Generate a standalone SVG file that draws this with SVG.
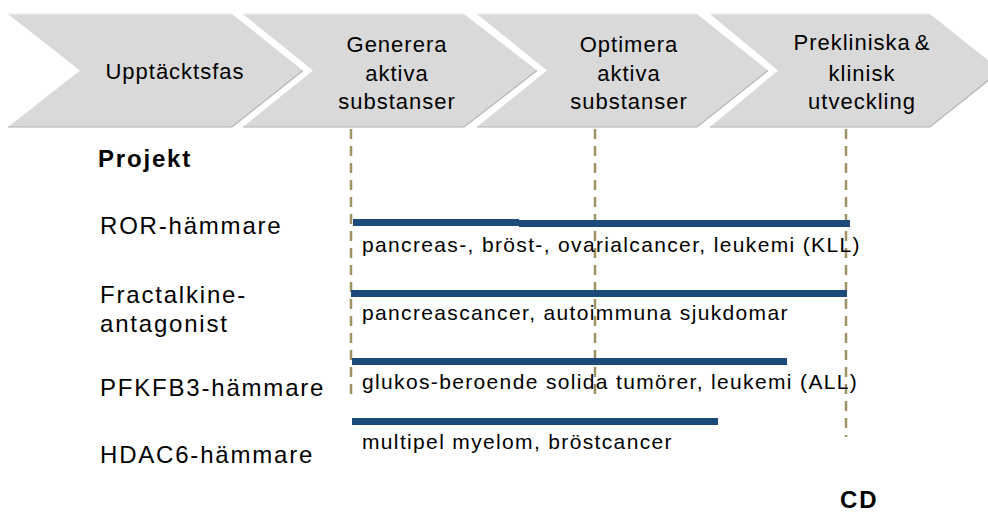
<svg xmlns="http://www.w3.org/2000/svg" width="988" height="514" viewBox="0 0 988 514">
  <style>
    text { font-family: "Liberation Sans", Arial, sans-serif; fill: #000; }
    .ph { font-size: 22px; letter-spacing: 1px; text-anchor: middle; }
    .proj { font-size: 24px; letter-spacing: 1.8px; }
    .bold { font-weight: bold; }
    .dis { font-size: 21px; letter-spacing: 1.35px; }
    .chev { fill: #d9d9d9; }
    .chev-hi { fill: none; stroke: #ededed; stroke-width: 1.5; }
    .chev-sh { fill: none; stroke: #b3b3b3; stroke-width: 1.2; }
    .guide { stroke: #a09262; stroke-width: 2.5; stroke-dasharray: 10 7; fill: none; }
    .bar { fill: #1c4a7b; }
  </style>

  <g id="phase-upptackt">
    <polygon class="chev" points="8,14 232,14 303,70.5 232,127 8,127 80,70.5"/>
    <polyline class="chev-hi" points="8,14 232,14"/>
    <polyline class="chev-sh" points="8,127 232,127 303,70.5"/>
    <text class="ph" x="175" y="79">Upptäcktsfas</text>
  </g>
  <g id="phase-generera">
    <polygon class="chev" points="243,14 464,14 537,70.5 464,127 243,127 313,70.5"/>
    <polyline class="chev-hi" points="243,14 464,14"/>
    <polyline class="chev-sh" points="243,127 464,127 537,70.5"/>
    <text class="ph" x="397" y="52">Generera</text>
    <text class="ph" x="397" y="81">aktiva</text>
    <text class="ph" x="397" y="109">substanser</text>
  </g>
  <g id="phase-optimera">
    <polygon class="chev" points="477,14 697,14 768,70.5 697,127 477,127 547,70.5"/>
    <polyline class="chev-hi" points="477,14 697,14"/>
    <polyline class="chev-sh" points="477,127 697,127 768,70.5"/>
    <text class="ph" x="629" y="52">Optimera</text>
    <text class="ph" x="629" y="81">aktiva</text>
    <text class="ph" x="629" y="109">substanser</text>
  </g>
  <g id="phase-preklinisk">
    <polygon class="chev" points="710,14 930,14 1001,70.5 930,127 710,127 778,70.5"/>
    <polyline class="chev-hi" points="710,14 930,14"/>
    <polyline class="chev-sh" points="710,127 930,127 1001,70.5"/>
    <text class="ph" x="862" y="50">Prekliniska<tspan dx="4">&amp;</tspan></text>
    <text class="ph" x="862" y="81">klinisk</text>
    <text class="ph" x="862" y="109">utveckling</text>
  </g>

  <g id="connectors">
    <line class="guide" x1="351" y1="129" x2="351" y2="397"/>
    <line class="guide" x1="595" y1="129" x2="595" y2="395"/>
    <line class="guide" x1="846" y1="129" x2="846" y2="437"/>
  </g>

  <g id="header-projekt">
    <text class="proj bold" x="98" y="167">Projekt</text>
  </g>

  <g id="proj-ror">
    <text class="proj" x="100" y="234">ROR-hämmare</text>
    <rect class="bar" x="353" y="219" width="166" height="7"/>
    <rect class="bar" x="519" y="220" width="331" height="7"/>
    <text class="dis" x="362" y="252">pancreas-, bröst-, ovarialcancer, leukemi (KLL)</text>
  </g>

  <g id="proj-fractalkine">
    <text class="proj" x="100" y="303">Fractalkine-</text>
    <text class="proj" x="100" y="332">antagonist</text>
    <rect class="bar" x="351" y="290" width="496" height="7"/>
    <text class="dis" x="362" y="320">pancreascancer, autoimmuna sjukdomar</text>
  </g>

  <g id="proj-pfkfb3">
    <text class="proj" x="100" y="396">PFKFB3-hämmare</text>
    <rect class="bar" x="352" y="358" width="435" height="7"/>
    <text class="dis" x="362" y="389">glukos-beroende solida tumörer, leukemi (ALL)</text>
  </g>

  <g id="proj-hdac6">
    <text class="proj" x="100" y="463">HDAC6-hämmare</text>
    <rect class="bar" x="352" y="418" width="366" height="7"/>
    <text class="dis" x="362" y="449">multipel myelom, bröstcancer</text>
  </g>

  <g id="label-cd">
    <text class="proj bold" x="840" y="508">CD</text>
  </g>
</svg>
